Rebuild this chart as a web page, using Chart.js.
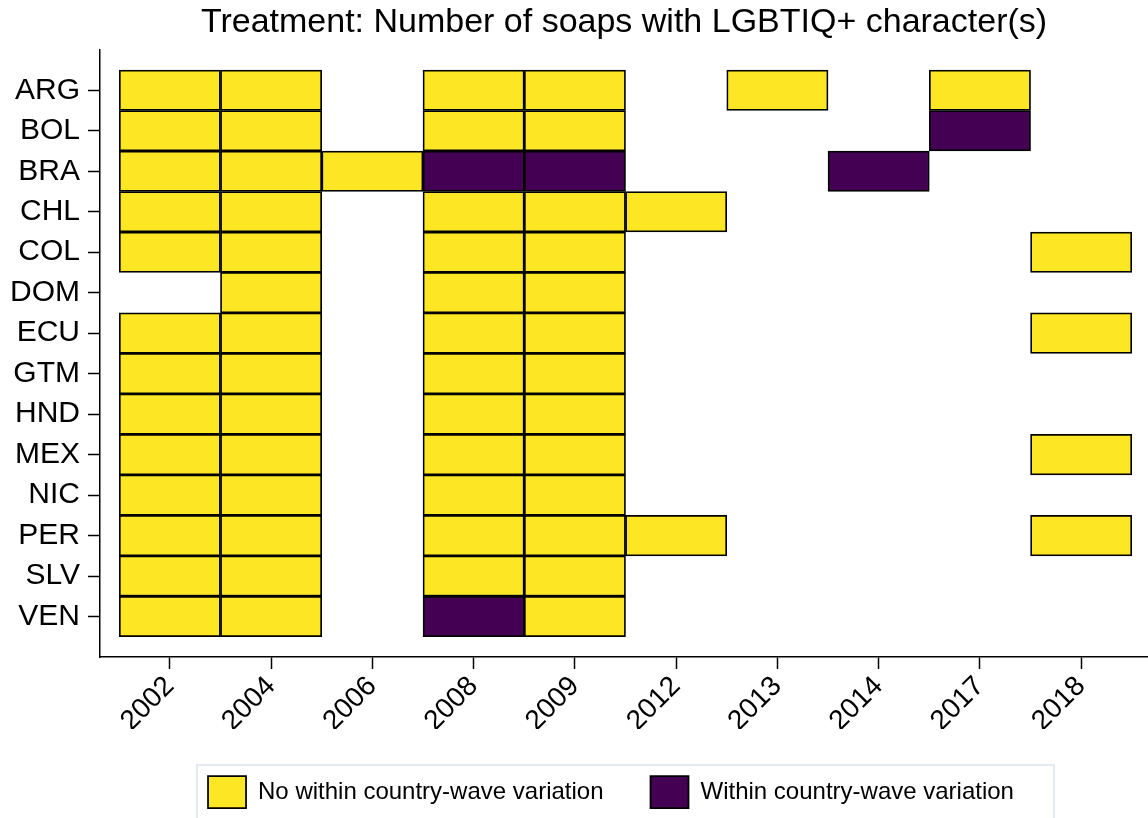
<!DOCTYPE html>
<html>
<head>
<meta charset="utf-8">
<script src="https://cdn.jsdelivr.net/npm/chart.js@4.4.0/dist/chart.umd.min.js"></script>
<style>
  html, body { margin: 0; padding: 0; background: #fff; }
  #wrap { width: 1148px; height: 818px; }
</style>
</head>
<body>
<div id="wrap"><canvas id="soaps"></canvas></div>
<script>
// waves (columns) and countries (rows)
var years = ['2002', '2004', '2006', '2008', '2009', '2012', '2013', '2014', '2017', '2018'];
var countries = ['ARG', 'BOL', 'BRA', 'CHL', 'COL', 'DOM', 'ECU', 'GTM', 'HND', 'MEX', 'NIC', 'PER', 'SLV', 'VEN'];

// 0 = no soap, 1 = no within country-wave variation, 2 = within country-wave variation
var cellStatus = [
  [1, 1, 0, 1, 1, 0, 1, 0, 1, 0], // ARG
  [1, 1, 0, 1, 1, 0, 0, 0, 2, 0], // BOL
  [1, 1, 1, 2, 2, 0, 0, 2, 0, 0], // BRA
  [1, 1, 0, 1, 1, 1, 0, 0, 0, 0], // CHL
  [1, 1, 0, 1, 1, 0, 0, 0, 0, 1], // COL
  [0, 1, 0, 1, 1, 0, 0, 0, 0, 0], // DOM
  [1, 1, 0, 1, 1, 0, 0, 0, 0, 1], // ECU
  [1, 1, 0, 1, 1, 0, 0, 0, 0, 0], // GTM
  [1, 1, 0, 1, 1, 0, 0, 0, 0, 0], // HND
  [1, 1, 0, 1, 1, 0, 0, 0, 0, 1], // MEX
  [1, 1, 0, 1, 1, 0, 0, 0, 0, 0], // NIC
  [1, 1, 0, 1, 1, 1, 0, 0, 0, 1], // PER
  [1, 1, 0, 1, 1, 0, 0, 0, 0, 0], // SLV
  [1, 1, 0, 2, 1, 0, 0, 0, 0, 0]  // VEN
];

var legendLabels = ['No within country-wave variation', 'Within country-wave variation'];

// Zellen fuer beide Gruppen sammeln
var noVarCells = [];
var varCells = [];
for (var r = 0; r < countries.length; r++) {
  for (var c = 0; c < years.length; c++) {
    var cell = { x: c, y: [r - 0.5, r + 0.5] };
    if (cellStatus[r][c] === 1) noVarCells.push(cell);
    if (cellStatus[r][c] === 2) varCells.push(cell);
  }
}

var FONT = "'Liberation Sans', Arial, sans-serif";

// Legende etwas nach links schieben und hellen Rahmen zeichnen
var legendFrame = {
  id: 'legendFrame',
  afterLayout: function (chart) {
    var lg = chart.legend;
    if (!lg) return;
    lg.left -= 13;
    lg.right -= 13;
  },
  afterDraw: function (chart) {
    var lg = chart.legend;
    if (!lg || !lg.legendHitBoxes.length) return;
    var first = lg.legendHitBoxes[0];
    var ctx = chart.ctx;
    ctx.save();
    ctx.strokeStyle = '#e3ebf0';
    ctx.lineWidth = 2;
    ctx.strokeRect(first.left - 11, first.top - 11, 857, 80);
    ctx.restore();
  }
};

var ctx = document.getElementById('soaps');
var soapChart = new Chart(ctx, {
  type: 'bar',
  data: {
    datasets: [
      {
        label: legendLabels[0],
        data: noVarCells,
        backgroundColor: '#fde725',
        borderColor: '#000000',
        borderWidth: 1.75,
        borderSkipped: false,
        categoryPercentage: 1,
        barPercentage: 1,
        grouped: false
      },
      {
        label: legendLabels[1],
        data: varCells,
        backgroundColor: '#440154',
        borderColor: '#000000',
        borderWidth: 1.75,
        borderSkipped: false,
        categoryPercentage: 1,
        barPercentage: 1,
        grouped: false
      }
    ]
  },
  options: {
    responsive: true,
    maintainAspectRatio: false,
    animation: false,
    layout: {
      padding: { left: 2, right: 0, top: 0, bottom: 0 }
    },
    scales: {
      x: {
        type: 'linear',
        offset: false,
        min: -0.69,
        max: 9.66,
        afterBuildTicks: function (scale) {
          scale.ticks = years.map(function (y, i) { return { value: i }; });
        },
        afterFit: function (scale) {
          scale.height = 72;
        },
        ticks: {
          color: '#000',
          font: { family: FONT, size: 28 },
          maxRotation: 45,
          minRotation: 45,
          padding: 1,
          autoSkip: false,
          callback: function (v) { return years[v]; }
        },
        grid: {
          offset: false,
          drawOnChartArea: false,
          drawTicks: true,
          tickLength: 12,
          tickColor: '#000',
          tickWidth: 1.5
        },
        border: { color: '#000', width: 1.5 }
      },
      y: {
        type: 'linear',
        reverse: true,
        min: -1,
        max: 14,
        afterBuildTicks: function (scale) {
          scale.ticks = countries.map(function (n, i) { return { value: i }; });
        },
        ticks: {
          color: '#000',
          font: { family: FONT, size: 30 },
          padding: 8,
          autoSkip: false,
          callback: function (v) { return countries[v]; }
        },
        grid: {
          drawOnChartArea: false,
          drawTicks: true,
          tickLength: 12,
          tickColor: '#000',
          tickWidth: 1.5
        },
        border: { color: '#000', width: 1.5 }
      }
    },
    plugins: {
      title: {
        display: true,
        fullSize: false,
        text: 'Treatment: Number of soaps with LGBTIQ+ character(s)',
        color: '#000',
        font: { family: FONT, size: 34, weight: 'normal' },
        padding: { top: 2, bottom: 7 }
      },
      legend: {
        display: true,
        position: 'bottom',
        fullSize: false,
        labels: {
          color: '#000',
          font: { family: FONT, size: 24 },
          boxWidth: 38,
          boxHeight: 32,
          padding: 47
        }
      },
      tooltip: { enabled: false }
    }
  },
  plugins: [legendFrame]
});
</script>
</body>
</html>
